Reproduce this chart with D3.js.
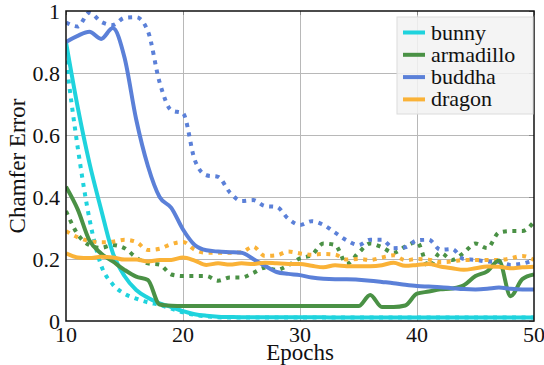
<!DOCTYPE html>
<html lang="en">
<head>
    <meta charset="UTF-8">
    <title>Chamfer Error vs Epochs</title>
    <script src="https://d3js.org/d3.v7.min.js"></script>
    <style>
        body {
            margin: 0;
            padding: 0;
            background: white;
            overflow: hidden;
        }
        
        .grid line {
            stroke: #b8b8b8;
            stroke-width: 1;
        }
        
        .grid path {
            stroke-width: 0;
        }
        
        .tick-label {
            font-family: "Liberation Serif", "DejaVu Serif", serif;
            font-size: 22px;
            fill: #111;
        }
        
        .axis-title {
            font-family: "Liberation Serif", "DejaVu Serif", serif;
            font-size: 23px;
            fill: #111;
        }
        
        .legend-text {
            font-family: "Liberation Serif", "DejaVu Serif", serif;
            font-size: 22px;
            fill: #111;
        }
    </style>
</head>
<body>
    <div id="chart"></div>

    <script>
        // Datos (Chamfer Error por epoch, 10..50)
        const epochs = d3.range(10, 51);
        
        const names = ["bunny", "armadillo", "buddha", "dragon"];
        const colors = ["#1fd3dd", "#4a9145", "#5b80d8", "#fab237"];
        
        const xTicks = [10, 20, 30, 40, 50];
        const yTicks = [0, 0.2, 0.4, 0.6, 0.8, 1];
        
        // líneas continuas
        const bunnySolid = [0.90, 0.69, 0.51, 0.36, 0.22, 0.145, 0.10, 0.075, 0.057, 0.045,
            0.032, 0.022, 0.017, 0.014, 0.013, 0.012, 0.012, 0.012, 0.012, 0.012,
            0.012, 0.012, 0.012, 0.011, 0.011, 0.011, 0.011, 0.011, 0.011, 0.011,
            0.011, 0.011, 0.011, 0.011, 0.011, 0.011, 0.011, 0.011, 0.011, 0.011, 0.011];
        const armadilloSolid = [0.433, 0.36, 0.26, 0.218, 0.192, 0.165, 0.143, 0.132, 0.053, 0.049,
            0.048, 0.048, 0.048, 0.048, 0.048, 0.048, 0.048, 0.048, 0.048, 0.048,
            0.048, 0.048, 0.048, 0.048, 0.048, 0.048, 0.084, 0.045, 0.045, 0.05,
            0.088, 0.095, 0.102, 0.105, 0.115, 0.145, 0.16, 0.195, 0.08, 0.135, 0.15];
        const buddhaSolid = [0.90, 0.92, 0.933, 0.91, 0.945, 0.85, 0.65, 0.50, 0.40, 0.365,
            0.295, 0.245, 0.228, 0.224, 0.222, 0.22, 0.20, 0.178, 0.158, 0.152,
            0.148, 0.14, 0.136, 0.135, 0.135, 0.133, 0.13, 0.126, 0.122, 0.117,
            0.113, 0.111, 0.109, 0.106, 0.103, 0.102, 0.104, 0.108, 0.104, 0.102, 0.102];
        const dragonSolid = [0.218, 0.205, 0.203, 0.207, 0.205, 0.198, 0.198, 0.192, 0.197, 0.197,
            0.205, 0.195, 0.181, 0.186, 0.182, 0.186, 0.184, 0.188, 0.186, 0.184,
            0.184, 0.178, 0.173, 0.18, 0.177, 0.177, 0.177, 0.18, 0.188, 0.178,
            0.181, 0.184, 0.176, 0.17, 0.165, 0.17, 0.176, 0.175, 0.17, 0.173, 0.175];
        
        // líneas punteadas
        const bunnyDotted = [0.84, 0.56, 0.33, 0.18, 0.118, 0.088, 0.072, 0.06, 0.052, 0.04,
            0.028, 0.02, 0.015, 0.012, 0.011, 0.011, 0.011, 0.011, 0.011, 0.011,
            0.011, 0.011, 0.011, 0.011, 0.011, 0.011, 0.011, 0.011, 0.011, 0.011,
            0.011, 0.011, 0.011, 0.011, 0.011, 0.011, 0.011, 0.011, 0.011, 0.011, 0.011];
        const armadilloDotted = [0.355, 0.28, 0.245, 0.236, 0.245, 0.235, 0.205, 0.186, 0.182, 0.15,
            0.145, 0.145, 0.145, 0.13, 0.14, 0.14, 0.155, 0.172, 0.165, 0.18,
            0.202, 0.213, 0.25, 0.245, 0.185, 0.22, 0.25, 0.238, 0.22, 0.24,
            0.255, 0.175, 0.22, 0.197, 0.22, 0.25, 0.235, 0.285, 0.29, 0.29, 0.32];
        const buddhaDotted = [0.963, 0.95, 0.995, 0.965, 0.955, 0.978, 0.98, 0.935, 0.77, 0.68,
            0.67, 0.52, 0.47, 0.465, 0.415, 0.387, 0.39, 0.371, 0.368, 0.33,
            0.31, 0.322, 0.31, 0.285, 0.26, 0.245, 0.262, 0.262, 0.235, 0.238,
            0.26, 0.262, 0.23, 0.232, 0.2, 0.197, 0.192, 0.19, 0.181, 0.185, 0.197];
        const dragonDotted = [0.29, 0.27, 0.258, 0.254, 0.256, 0.262, 0.255, 0.229, 0.233, 0.248,
            0.255, 0.23, 0.22, 0.22, 0.22, 0.222, 0.24, 0.21, 0.212, 0.224,
            0.218, 0.214, 0.216, 0.214, 0.198, 0.2, 0.197, 0.205, 0.212, 0.196,
            0.2, 0.198, 0.19, 0.192, 0.197, 0.197, 0.197, 0.197, 0.202, 0.21, 0.197];
        
        const solidSeries = [bunnySolid, armadilloSolid, buddhaSolid, dragonSolid];
        const dottedSeries = [bunnyDotted, armadilloDotted, buddhaDotted, dragonDotted];
        
        // Configuración del gráfico
        const totalWidth = 544, totalHeight = 365;
        const margin = {top: 11, right: 10, bottom: 44, left: 66};
        const width = totalWidth - margin.left - margin.right;
        const height = totalHeight - margin.top - margin.bottom;
        
        const svg = d3.select("#chart")
            .append("svg")
            .attr("width", totalWidth)
            .attr("height", totalHeight);
        
        const g = svg.append("g")
            .attr("transform", `translate(${margin.left},${margin.top})`);
        
        // Escalas
        const xScale = d3.scaleLinear().domain([10, 50]).range([0, width]);
        const yScale = d3.scaleLinear().domain([0, 1]).range([height, 0]);
        
        // Grid
        g.append("g")
            .attr("class", "grid")
            .attr("transform", `translate(0,${height})`)
            .call(d3.axisBottom(xScale).tickValues(xTicks.slice(1, -1)).tickSize(-height).tickFormat(""));
        
        g.append("g")
            .attr("class", "grid")
            .call(d3.axisLeft(yScale).tickValues(yTicks.slice(1, -1)).tickSize(-width).tickFormat(""));
        
        // Ticks interiores arriba y a la derecha
        g.append("g")
            .call(d3.axisBottom(xScale).tickValues(xTicks).tickSize(4).tickFormat(""))
            .call(a => a.select(".domain").remove())
            .selectAll("line").attr("stroke", "#888");
        
        g.append("g")
            .attr("transform", `translate(${width},0)`)
            .call(d3.axisLeft(yScale).tickValues(yTicks).tickSize(5).tickFormat(""))
            .call(a => a.select(".domain").remove())
            .selectAll("line").attr("stroke", "#888");
        
        // Clip
        svg.append("defs").append("clipPath")
            .attr("id", "clip")
            .append("rect")
            .attr("width", width)
            .attr("height", height);
        
        // Generador de línea
        const line = d3.line()
            .x((d, i) => xScale(epochs[i]))
            .y(d => yScale(d))
            .curve(d3.curveMonotoneX);
        
        const lines = g.append("g").attr("clip-path", "url(#clip)");
        
        dottedSeries.forEach((s, i) => {
            lines.append("path")
                .datum(s)
                .attr("fill", "none")
                .attr("stroke", colors[i])
                .attr("stroke-width", 4)
                .attr("stroke-dasharray", "4,5.5")
                .attr("d", line);
        });
        
        solidSeries.forEach((s, i) => {
            lines.append("path")
                .datum(s)
                .attr("fill", "none")
                .attr("stroke", colors[i])
                .attr("stroke-width", 4)
                .attr("stroke-linejoin", "round")
                .attr("d", line);
        });
        
        // Marco
        g.append("rect")
            .attr("width", width)
            .attr("height", height)
            .attr("fill", "none")
            .attr("stroke", "#111")
            .attr("stroke-width", 1.5);
        
        // Etiquetas de ejes
        g.selectAll(".xlab")
            .data(xTicks)
            .enter().append("text")
            .attr("class", "tick-label")
            .attr("x", d => xScale(d))
            .attr("y", height + 21)
            .attr("text-anchor", "middle")
            .text(d => d);
        
        g.selectAll(".ylab")
            .data(yTicks)
            .enter().append("text")
            .attr("class", "tick-label")
            .attr("x", -6)
            .attr("y", d => yScale(d) + 8)
            .attr("text-anchor", "end")
            .text(d => d3.format("~g")(d));
        
        svg.append("text")
            .attr("class", "axis-title")
            .attr("x", margin.left + xScale(30))
            .attr("y", 360)
            .attr("text-anchor", "middle")
            .text("Epochs");
        
        svg.append("text")
            .attr("class", "axis-title")
            .attr("transform", `translate(25,${margin.top + height / 2}) rotate(-90)`)
            .attr("text-anchor", "middle")
            .text("Chamfer Error");
        
        // Leyenda
        const legend = svg.append("g").attr("transform", "translate(397,17)");
        
        legend.append("rect")
            .attr("width", 136)
            .attr("height", 97)
            .attr("fill", "#f2f2f2")
            .attr("fill-opacity", 0.85)
            .attr("stroke", "#dcdcdc")
            .attr("stroke-width", 1);
        
        names.forEach((name, i) => {
            const yy = 15.5 + i * 22.3;
            legend.append("line")
                .attr("x1", 6).attr("x2", 28)
                .attr("y1", yy).attr("y2", yy)
                .attr("stroke", colors[i])
                .attr("stroke-width", 4);
            legend.append("text")
                .attr("class", "legend-text")
                .attr("x", 34)
                .attr("y", yy + 7)
                .text(name);
        });
    </script>
</body>
</html>
